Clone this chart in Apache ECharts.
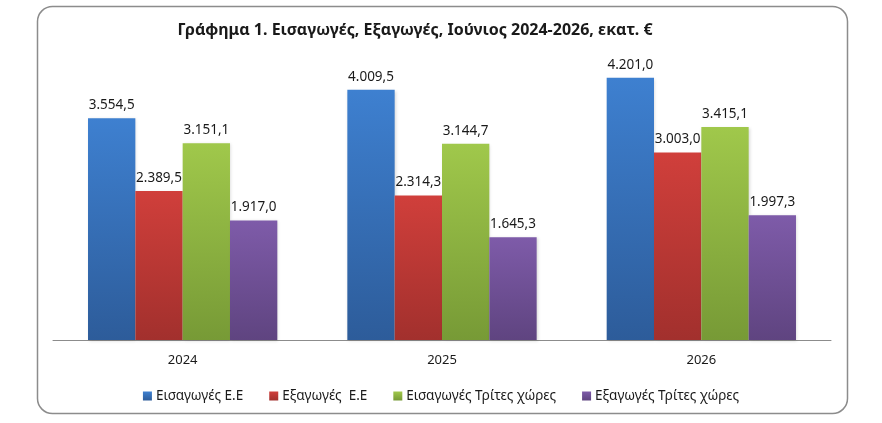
<!DOCTYPE html>
<html>
<head>
<meta charset="utf-8">
<script src="https://cdn.jsdelivr.net/npm/echarts@6/dist/echarts.min.js"></script>
<style>
html,body{margin:0;padding:0;background:#fff;}
#c{width:882px;height:423px;}
</style>
</head>
<body>
<div id="c"></div>
<script>
var categories = ['2024', '2025', '2026'];
var seriesNames = ['Εισαγωγές Ε.Ε', 'Εξαγωγές  Ε.Ε', 'Εισαγωγές Τρίτες χώρες', 'Εξαγωγές Τρίτες χώρες'];
var importsEU = [3554.5, 4009.5, 4201.0];
var exportsEU = [2389.5, 2314.3, 3003.0];
var importsThird = [3151.1, 3144.7, 3415.1];
var exportsThird = [1917.0, 1645.3, 1997.3];
var titleText = 'Γράφημα 1. Εισαγωγές, Εξαγωγές, Ιούνιος 2024-2026, εκατ. €';

var colorPairs = [
  ['#3e80d0', '#2d5c9a'],
  ['#d03f3b', '#a2302d'],
  ['#a0c84b', '#779a36'],
  ['#7e5ba9', '#5f4480']
];
var seriesData = [importsEU, exportsEU, importsThird, exportsThird];

function fmt(v) {
  var s = v.toFixed(1).split('.');
  var intPart = s[0].replace(/\B(?=(\d{3})+(?!\d))/g, '.');
  return intPart + ',' + s[1];
}

var font = '"Noto Sans", "DejaVu Sans", sans-serif';

var chart = echarts.init(document.getElementById('c'), null, {renderer: 'canvas'});
var series = seriesData.map(function (d, i) {
  return {
    name: seriesNames[i],
    type: 'bar',
    data: d,
    barGap: '0%',
    barCategoryGap: '27%',
    itemStyle: {
      color: new echarts.graphic.LinearGradient(0, 0, 0, 1, [
        {offset: 0, color: colorPairs[i][0]},
        {offset: 1, color: colorPairs[i][1]}
      ]),
      shadowColor: 'rgba(0,0,0,0.15)',
      shadowBlur: 3,
      shadowOffsetX: 1,
      shadowOffsetY: 1
    },
    label: {
      show: true,
      position: 'top',
      distance: 6,
      color: '#1a1a1a',
      fontFamily: font,
      fontSize: 13.5,
      formatter: function (p) { return fmt(p.value); }
    }
  };
});

chart.setOption({
  animation: false,
  color: colorPairs.map(function (c) { return c[0]; }),
  title: {
    text: titleText,
    left: 410,
    textAlign: 'center',
    top: 17,
    textStyle: {fontFamily: font, fontSize: 16, fontWeight: 'bold', color: '#1a1a1a'}
  },
  graphic: [{
    type: 'rect',
    shape: {x: 37.5, y: 6.5, width: 810, height: 407, r: 15},
    style: {fill: 'none', stroke: '#8c8c8c', lineWidth: 1.5},
    silent: true,
    z: -1
  }],
  legend: {
    data: seriesNames,
    left: 'center',
    top: 384,
    itemWidth: 9,
    itemHeight: 9,
    itemGap: 26,
    icon: 'rect',
    textStyle: {fontFamily: font, fontSize: 13.5, color: '#1a1a1a', padding: [0, 0, 0, -1]}
  },
  grid: {left: 53, right: 51, top: 28, bottom: 83, containLabel: false},
  xAxis: {
    type: 'category',
    data: categories,
    axisLine: {show: true, lineStyle: {color: '#8c8c8c', width: 1}},
    axisTick: {show: false},
    axisLabel: {fontFamily: font, fontSize: 13, color: '#1a1a1a', margin: 14}
  },
  yAxis: {
    type: 'value',
    min: 0,
    max: 5000,
    show: false,
    splitLine: {show: false}
  },
  series: series
});
</script>
</body>
</html>
